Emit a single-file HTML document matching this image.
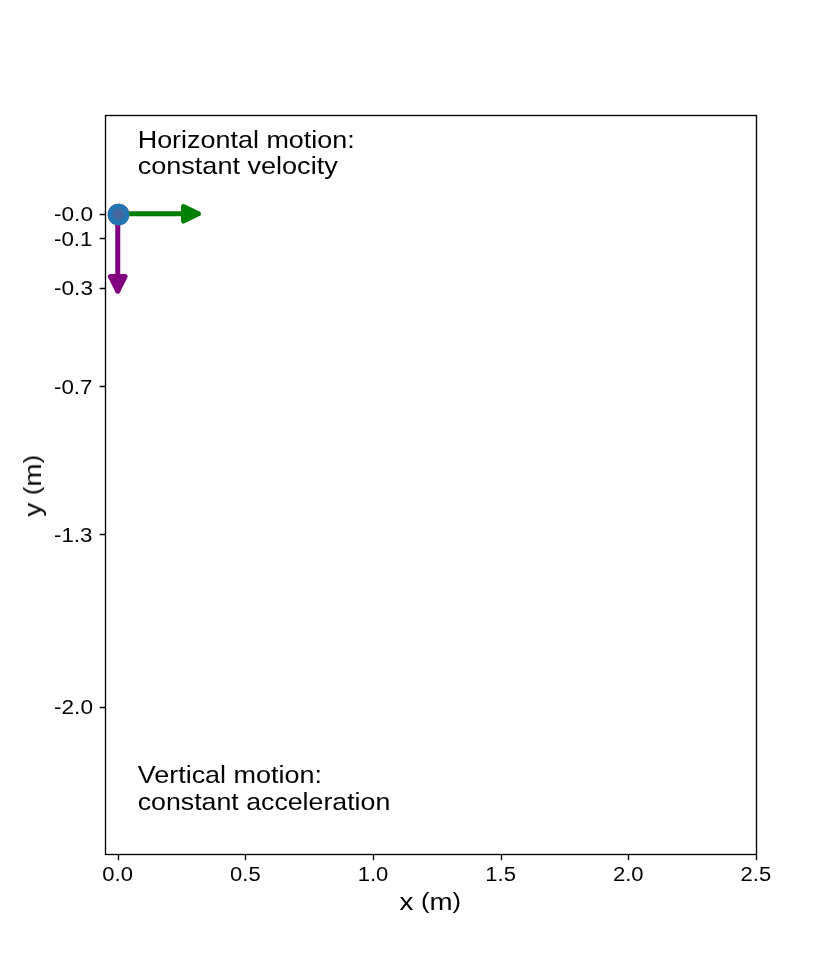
<!DOCTYPE html>
<html lang="en">
<head>
<meta charset="utf-8">
<title>Projectile motion: horizontal and vertical components</title>
<style>
  html, body { margin: 0; padding: 0; background: #ffffff; }
  body { width: 840px; height: 960px; overflow: hidden; }
  svg { display: block; }
  text { font-family: "Liberation Sans", sans-serif; fill: #000000; }
  .txt { opacity: 0.999; }
  .tick { font-size: 20.7px; }
  .label { font-size: 24.4px; }
  .note { font-size: 24.4px; }
  .par { font-size: 22.3px; }
  .spine { fill: none; stroke: #000000; stroke-width: 1.333; stroke-linecap: square; }
  .tk { stroke: #000000; stroke-width: 1.333; }
</style>
</head>
<body>
<svg width="840" height="960" viewBox="0 0 840 960">
  <rect x="0" y="0" width="840" height="960" fill="#ffffff"/>

  <!-- velocity arrows -->
  <g id="arrow-vx" stroke="#008000" fill="#008000" stroke-width="5" stroke-linecap="round" stroke-linejoin="round">
    <path d="M121.1 213.76 L198.2 213.76" fill="none"/>
    <path d="M183.53 206.43 L198.2 213.76 L183.53 221.09 Z"/>
  </g>
  <g id="arrow-vy" stroke="#800080" fill="#800080" stroke-width="5" stroke-linecap="round" stroke-linejoin="round">
    <path d="M117.76 217.09 L117.76 291.08" fill="none"/>
    <path d="M125.1 276.41 L117.76 291.08 L110.43 276.41 Z"/>
  </g>

  <!-- ball -->
  <circle cx="118.5" cy="214.5" r="10.8" fill="#d62728"/>
  <circle cx="118.5" cy="214.5" r="10.8" fill="#1f77b4"/>
  <circle cx="118.5" cy="214.3" r="6.2" fill="#3570ab" stroke="#426a9f" stroke-width="0.9"/>
  <circle cx="118.5" cy="214.3" r="4.15" fill="#48649a"/>

  <!-- axes frame -->
  <rect class="spine" x="105.5" y="115.5" width="651" height="739"/>

  <!-- y ticks -->
  <g class="tk">
    <path d="M99.67 214.5H105.5 M99.67 238.5H105.5 M99.67 288.5H105.5 M99.67 386.5H105.5 M99.67 534.5H105.5 M99.67 707.5H105.5"/>
    <path d="M118.5 854.5V860.33 M245.5 854.5V860.33 M373.5 854.5V860.33 M501.5 854.5V860.33 M628.5 854.5V860.33 M756.5 854.5V860.33"/>
  </g>

  <g class="txt">
  <!-- y tick labels -->
  <g class="tick">
    <text x="54" y="220.7" textLength="39" lengthAdjust="spacingAndGlyphs">-0.0</text>
    <text x="54" y="245.7" textLength="38.4" lengthAdjust="spacingAndGlyphs">-0.1</text>
    <text x="54" y="294.7" textLength="39" lengthAdjust="spacingAndGlyphs">-0.3</text>
    <text x="54" y="393.7" textLength="38.4" lengthAdjust="spacingAndGlyphs">-0.7</text>
    <text x="54" y="541.7" textLength="38.4" lengthAdjust="spacingAndGlyphs">-1.3</text>
    <text x="54" y="713.7" textLength="39" lengthAdjust="spacingAndGlyphs">-2.0</text>
  </g>

  <!-- x tick labels -->
  <g class="tick">
    <text x="102.3" y="880.7" textLength="30.6" lengthAdjust="spacingAndGlyphs">0.0</text>
    <text x="230.1" y="880.7" textLength="30.6" lengthAdjust="spacingAndGlyphs">0.5</text>
    <text x="357.7" y="880.7" textLength="30.6" lengthAdjust="spacingAndGlyphs">1.0</text>
    <text x="485.3" y="880.7" textLength="30.6" lengthAdjust="spacingAndGlyphs">1.5</text>
    <text x="612.9" y="880.7" textLength="30.6" lengthAdjust="spacingAndGlyphs">2.0</text>
    <text x="740.6" y="880.7" textLength="30.6" lengthAdjust="spacingAndGlyphs">2.5</text>
  </g>

  <!-- axis labels -->
  <text class="label" x="399.4" y="910" textLength="61.6" lengthAdjust="spacingAndGlyphs">x <tspan class="par" dy="-2.5">(</tspan><tspan dy="2.5">m</tspan><tspan class="par" dy="-2.5">)</tspan></text>
  <text class="label" transform="translate(41 516.6) rotate(-90)" x="0" y="0" textLength="61.6" lengthAdjust="spacingAndGlyphs">y <tspan class="par" dy="-2.5">(</tspan><tspan dy="2.5">m</tspan><tspan class="par" dy="-2.5">)</tspan></text>

  <!-- annotations -->
  <g class="note">
    <text x="137.7" y="148" textLength="217" lengthAdjust="spacingAndGlyphs">Horizontal motion:</text>
    <text x="137.7" y="174" textLength="200" lengthAdjust="spacingAndGlyphs">constant velocity</text>
    <text x="137.7" y="783" textLength="184.3" lengthAdjust="spacingAndGlyphs">Vertical motion:</text>
    <text x="137.7" y="810" textLength="252.6" lengthAdjust="spacingAndGlyphs">constant acceleration</text>
  </g>
  </g>
</svg>
</body>
</html>
